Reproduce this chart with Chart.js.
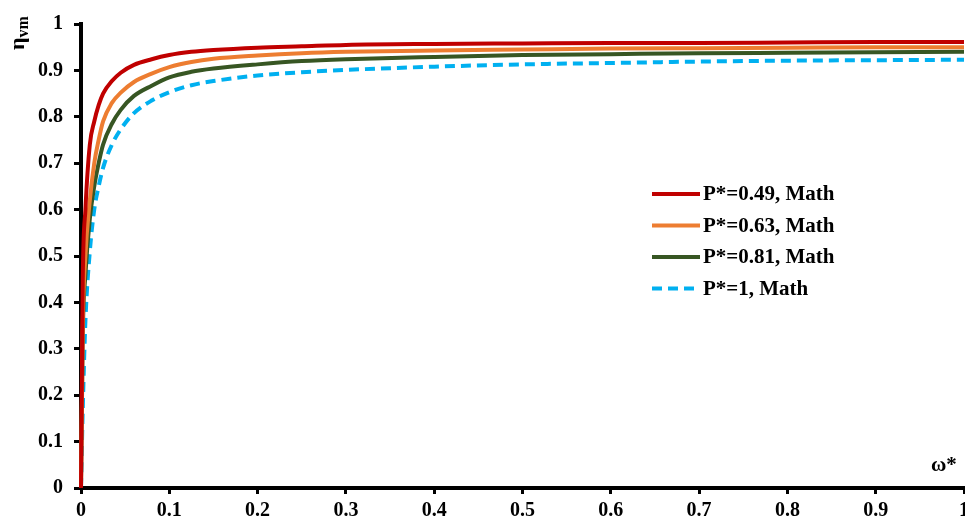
<!DOCTYPE html>
<html>
<head>
<meta charset="utf-8">
<script src="https://cdn.jsdelivr.net/npm/chart.js@4.4.1/dist/chart.umd.min.js"></script>
<style>
  html, body { margin: 0; padding: 0; background: #fff; }
  #wrap { width: 965px; height: 520px; }
</style>
</head>
<body>
<div id="wrap"><canvas id="chart" width="965" height="520"></canvas></div>
<script>
// omega* values (x) shared by all curves
const omega = [0, 0.002, 0.005, 0.01, 0.015, 0.02, 0.025, 0.035, 0.045, 0.06, 0.08, 0.1,
  0.125, 0.15, 0.2, 0.25, 0.3, 0.4, 0.5, 0.6, 0.7, 0.8, 0.9, 1.0];

// eta_vm values per curve
const p049 = [0, 0.45, 0.6, 0.74, 0.79, 0.825, 0.85, 0.877, 0.895, 0.912, 0.924, 0.933,
  0.94, 0.944, 0.949, 0.952, 0.955, 0.957, 0.958, 0.959, 0.959, 0.96, 0.961, 0.961];
const p063 = [0, 0.35, 0.5, 0.62, 0.7, 0.75, 0.79, 0.83, 0.852, 0.875, 0.893, 0.907,
  0.918, 0.925, 0.932, 0.937, 0.94, 0.943, 0.945, 0.947, 0.948, 0.949, 0.95, 0.95];
const p081 = [0, 0.33, 0.46, 0.58, 0.65, 0.7, 0.74, 0.785, 0.815, 0.845, 0.867, 0.885,
  0.897, 0.904, 0.913, 0.92, 0.924, 0.929, 0.933, 0.935, 0.937, 0.938, 0.939, 0.94];
const p100 = [0, 0.17, 0.36, 0.51, 0.6, 0.65, 0.69, 0.74, 0.773, 0.808, 0.835, 0.853,
  0.868, 0.877, 0.889, 0.896, 0.901, 0.908, 0.913, 0.916, 0.919, 0.921, 0.922, 0.923];

const seriesLabels = ['P*=0.49, Math', 'P*=0.63, Math', 'P*=0.81, Math', 'P*=1, Math'];
const xTickLabels = ['0', '0.1', '0.2', '0.3', '0.4', '0.5', '0.6', '0.7', '0.8', '0.9', '1'];
const yTickLabels = ['0', '0.1', '0.2', '0.3', '0.4', '0.5', '0.6', '0.7', '0.8', '0.9', '1'];

const FONT = '"Liberation Serif", "Times New Roman", serif';

const toPoints = (ys) => omega.map((x, i) => ({ x: x, y: ys[i] }));

function line(label, ys, color, dash) {
  return {
    label: label,
    data: toPoints(ys),
    borderColor: color,
    backgroundColor: color,
    borderWidth: 4,
    borderDash: dash || [],
    pointRadius: 0,
    showLine: true,
    cubicInterpolationMode: 'monotone',
    clip: false
  };
}

// legend + axis titles drawn by hand
const decorations = {
  id: 'decorations',
  afterDraw(chart) {
    const ctx = chart.ctx;
    ctx.save();
    ctx.fillStyle = '#000';
    ctx.textBaseline = 'middle';
    ctx.font = 'bold 21px ' + FONT;
    const rowY = [194, 225.5, 257, 288.5];
    chart.data.datasets.forEach((ds, i) => {
      ctx.strokeStyle = ds.borderColor;
      ctx.lineWidth = 4;
      ctx.setLineDash(ds.borderDash);
      ctx.beginPath();
      ctx.moveTo(652, rowY[i]);
      ctx.lineTo(700, rowY[i]);
      ctx.stroke();
      ctx.setLineDash([]);
      ctx.fillText(ds.label, 703, rowY[i] + 1);
    });

    // y title: eta_vm, rotated
    ctx.save();
    ctx.translate(24, 50);
    ctx.rotate(-Math.PI / 2);
    ctx.textBaseline = 'alphabetic';
    ctx.font = 'bold 22px ' + FONT;
    ctx.fillText('η', 0, 0);
    const w = ctx.measureText('η').width;
    ctx.font = 'bold 16px ' + FONT;
    ctx.fillText('vm', w, 4);
    ctx.restore();

    // x title
    ctx.textBaseline = 'alphabetic';
    ctx.font = 'bold 21px ' + FONT;
    ctx.fillText('ω*', 931, 471);
    ctx.restore();
  }
};

new Chart(document.getElementById('chart'), {
  type: 'scatter',
  data: {
    datasets: [
      line(seriesLabels[0], p049, '#C00000'),
      line(seriesLabels[1], p063, '#ED7D31'),
      line(seriesLabels[2], p081, '#375623'),
      line(seriesLabels[3], p100, '#00B0F0', [10, 6])
    ]
  },
  options: {
    responsive: false,
    animation: false,
    layout: { padding: { top: 24, right: 1, bottom: 0, left: 0 } },
    plugins: {
      legend: { display: false },
      tooltip: { enabled: false }
    },
    scales: {
      x: {
        type: 'linear',
        min: 0,
        max: 1,
        ticks: {
          stepSize: 0.1,
          padding: 5,
          color: '#000',
          maxRotation: 0,
          font: { family: FONT, size: 20, weight: 'bold' },
          callback: (v, i) => xTickLabels[i]
        },
        grid: { drawOnChartArea: false, color: '#000', tickLength: 6, tickWidth: 3 },
        border: { display: true, color: '#000', width: 4 },
        afterFit(scale) {
          scale.height = 32;
          scale.paddingLeft = 0;
          scale.paddingRight = 0;
        }
      },
      y: {
        min: 0,
        max: 1,
        ticks: {
          stepSize: 0.1,
          padding: 11,
          color: '#000',
          font: { family: FONT, size: 20, weight: 'bold' },
          callback: (v, i) => yTickLabels[i]
        },
        grid: { drawOnChartArea: false, color: '#000', tickLength: 7, tickWidth: 3 },
        border: { display: true, color: '#000', width: 4 },
        afterFit(scale) {
          scale.width = 81;
          scale.paddingTop = 0;
          scale.paddingBottom = 0;
        }
      }
    }
  },
  plugins: [decorations]
});
</script>
</body>
</html>
